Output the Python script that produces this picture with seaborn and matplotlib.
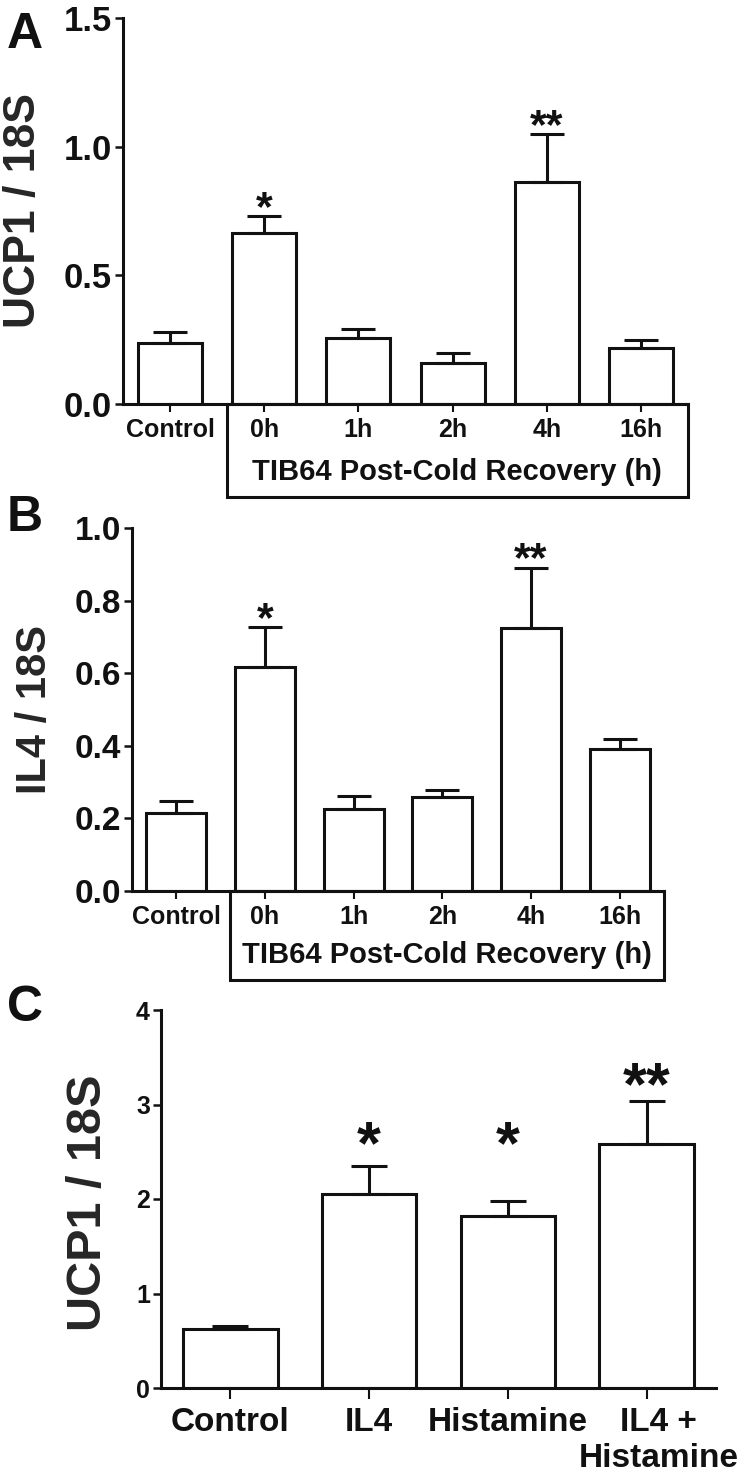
import matplotlib
matplotlib.use('Agg')
import matplotlib.pyplot as plt
from matplotlib.patches import Rectangle
from matplotlib.transforms import ScaledTranslation
import seaborn as sns
import numpy as np

# panel A: UCP1 / 18S after cold recovery
a_labels = ['Control', '0h', '1h', '2h', '4h', '16h']
a_means = [0.237, 0.665, 0.255, 0.160, 0.862, 0.218]
a_err = [0.043, 0.065, 0.035, 0.040, 0.187, 0.029]
a_stars = ['', '*', '', '', '**', '']
a_star_y = [None, 0.79, None, None, 1.11, None]
a_ticks = [0.0, 0.5, 1.0, 1.5]

# panel B: IL4 / 18S after cold recovery
b_labels = ['Control', '0h', '1h', '2h', '4h', '16h']
b_means = [0.215, 0.616, 0.226, 0.260, 0.725, 0.390]
b_err = [0.033, 0.112, 0.036, 0.017, 0.165, 0.028]
b_stars = ['', '*', '', '', '**', '']
b_star_y = [None, 0.77, None, None, 0.935, None]
b_ticks = [0.0, 0.2, 0.4, 0.6, 0.8, 1.0]

# panel C: UCP1 / 18S with IL4 / histamine
c_labels = ['Control', 'IL4', 'Histamine', 'IL4 +\nHistamine']
c_means = [0.62, 2.05, 1.82, 2.58]
c_err = [0.04, 0.30, 0.16, 0.46]
c_stars = ['', '*', '*', '**']
c_star_y = [None, 2.68, 2.68, 3.3]
c_ticks = [0, 1, 2, 3, 4]

sns.set_theme(style="ticks")
plt.rcParams['font.family'] = ['Liberation Sans', 'DejaVu Sans']
plt.rcParams['font.weight'] = 'bold'
plt.rcParams['axes.labelweight'] = 'bold'

INK = '#111111'
LW = 2.2
W, H = 747, 1481

fig = plt.figure(figsize=(W / 100, H / 100), dpi=100)


def px_axes(left, right, top, bottom):
    return fig.add_axes([left / W, 1 - bottom / H, (right - left) / W, (bottom - top) / H])


def draw_panel(ax, labels, means, errs, stars, star_y, ticks, ylabel, ytick_fs, ylabel_fs,
               xtick_fs, star_fs, capsize, width=0.68):
    n = len(labels)
    sns.barplot(x=labels, y=means, ax=ax, color='white', saturation=1,
                edgecolor=INK, linewidth=LW, width=width, errorbar=None)
    ax.errorbar(range(n), means, yerr=[np.zeros(n), errs], fmt='none',
                ecolor=INK, elinewidth=LW, capsize=capsize, capthick=LW, zorder=3)
    # asterisks: glyph centre placed at star_y
    for i, s in enumerate(stars):
        if s:
            ax.annotate(s, xy=(i, star_y[i]), xytext=(0, -0.46 * star_fs),
                        textcoords='offset points', ha='center', va='baseline',
                        fontsize=star_fs, fontweight='bold', color=INK)
    ax.set_xlim(-0.5, n - 0.5)
    ax.set_ylim(ticks[0], ticks[-1])
    ax.set_yticks(ticks)
    ax.set_facecolor('white')
    sns.despine(ax=ax)
    for side in ['left', 'bottom']:
        ax.spines[side].set_linewidth(LW)
        ax.spines[side].set_color(INK)
    ax.tick_params(axis='y', length=6, width=1.8, color=INK, labelsize=ytick_fs, pad=2)
    ax.tick_params(axis='x', length=6, width=1.5, color=INK, labelsize=xtick_fs, pad=4)
    ax.set_xlabel('')
    ax.set_ylabel(ylabel, fontsize=ylabel_fs, fontweight='bold')
    for t in ax.get_xticklabels() + ax.get_yticklabels():
        t.set_fontweight('bold')
        t.set_color(INK)


def add_box(ax, left_x, depth, text, fs, text_y):
    tr = ax.get_xaxis_transform()
    right_x = ax.get_xlim()[1]
    ax.add_patch(Rectangle((left_x, -depth), right_x - left_x, depth, transform=tr,
                           fill=False, edgecolor=INK, linewidth=LW, clip_on=False))
    ax.text((left_x + right_x) / 2, -text_y, text, transform=tr, ha='center', va='center',
            fontsize=fs, fontweight='bold', color=INK)


# A
axA = px_axes(123, 688, 18, 404)
draw_panel(axA, a_labels, a_means, a_err, a_stars, a_star_y, a_ticks, 'UCP1 / 18S',
           25, 32, 18, 31, 12)
axA.set_yticklabels(['0.0', '0.5', '1.0', '1.5'])
axA.yaxis.set_label_coords(-0.14, 0.5)
add_box(axA, 0.6, (497 - 404) / 386, 'TIB64 Post-Cold Recovery (h)', 21, (472 - 404) / 386)

# B
axB = px_axes(132, 664, 528, 891)
draw_panel(axB, b_labels, b_means, b_err, b_stars, b_star_y, b_ticks, 'IL4 / 18S',
           24, 30, 18, 31, 12)
axB.set_yticklabels(['0.0', '0.2', '0.4', '0.6', '0.8', '1.0'])
axB.yaxis.set_label_coords(-0.145, 0.5)
add_box(axB, 0.6, (980 - 891) / 363, 'TIB64 Post-Cold Recovery (h)', 21, (955 - 891) / 363)

# C
axC = px_axes(161, 716, 1010, 1388)
draw_panel(axC, c_labels, c_means, c_err, c_stars, c_star_y, c_ticks, 'UCP1 / 18S',
           18, 35, 24, 44, 13)
axC.tick_params(axis='x', length=8, pad=6)
axC.yaxis.set_label_coords(-0.09, 0.49)
for t in axC.get_xticklabels():
    t.set_linespacing(1.2)
last = axC.get_xticklabels()[-1]
last.set_transform(last.get_transform() + ScaledTranslation(0.12, 0, fig.dpi_scale_trans))

# panel letters
for letter, top in [('A', 12), ('B', 495), ('C', 985)]:
    fig.text(7 / W, 1 - top / H, letter, ha='left', va='top', fontsize=36,
             fontweight='bold', color=INK)

fig.savefig('out.png', dpi=100, facecolor='white')
